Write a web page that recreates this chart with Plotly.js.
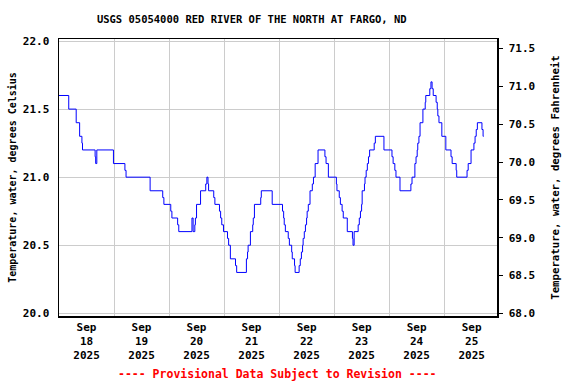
<!DOCTYPE html>
<html>
<head>
<meta charset="utf-8">
<script src="https://cdn.plot.ly/plotly-3.0.1.min.js"></script>
<style>html,body{margin:0;padding:0;background:#fff;}#chart{width:576px;height:384px;}</style>
</head>
<body>
<div id="chart"></div>
<script>
// Change points of the 15-minute water temperature record (degrees Celsius), drawn as steps
const times = [
"2025-09-18 00:00","2025-09-18 04:15","2025-09-18 07:30","2025-09-18 09:00","2025-09-18 10:00","2025-09-18 10:15",
"2025-09-18 15:45","2025-09-18 16:00","2025-09-18 16:30","2025-09-18 23:45",
"2025-09-19 04:45","2025-09-19 05:15","2025-09-19 15:45","2025-09-19 21:15","2025-09-19 21:45",
"2025-09-20 00:45","2025-09-20 01:15","2025-09-20 03:45","2025-09-20 04:15","2025-09-20 10:00","2025-09-20 10:30",
"2025-09-20 11:15","2025-09-20 11:30","2025-09-20 12:00","2025-09-20 13:45","2025-09-20 16:00","2025-09-20 16:30",
"2025-09-20 17:00","2025-09-20 17:15","2025-09-20 19:30","2025-09-20 20:00","2025-09-20 22:00","2025-09-20 22:30",
"2025-09-20 23:00","2025-09-20 23:45",
"2025-09-21 01:30","2025-09-21 02:00","2025-09-21 02:45","2025-09-21 05:00","2025-09-21 05:30","2025-09-21 09:45",
"2025-09-21 10:15","2025-09-21 10:30","2025-09-21 11:30","2025-09-21 12:30","2025-09-21 12:45","2025-09-21 13:15",
"2025-09-21 16:00","2025-09-21 16:15","2025-09-21 21:00",
"2025-09-22 01:30","2025-09-22 02:00","2025-09-22 02:15","2025-09-22 02:45","2025-09-22 04:00","2025-09-22 04:30",
"2025-09-22 05:30","2025-09-22 05:45","2025-09-22 06:45","2025-09-22 07:00","2025-09-22 08:45","2025-09-22 09:15",
"2025-09-22 09:45","2025-09-22 10:15","2025-09-22 10:30","2025-09-22 11:00","2025-09-22 11:30","2025-09-22 12:00",
"2025-09-22 12:15","2025-09-22 12:45","2025-09-22 13:30","2025-09-22 14:30","2025-09-22 15:00","2025-09-22 15:45",
"2025-09-22 17:00","2025-09-22 20:00","2025-09-22 20:30","2025-09-22 21:30",
"2025-09-23 01:00","2025-09-23 01:15","2025-09-23 02:15","2025-09-23 02:45","2025-09-23 03:30","2025-09-23 04:00",
"2025-09-23 05:45","2025-09-23 08:00","2025-09-23 08:15","2025-09-23 08:45","2025-09-23 10:30","2025-09-23 11:00",
"2025-09-23 11:30","2025-09-23 12:00","2025-09-23 12:15","2025-09-23 13:15","2025-09-23 13:30","2025-09-23 14:00",
"2025-09-23 14:30","2025-09-23 15:00","2025-09-23 15:30","2025-09-23 17:30","2025-09-23 18:00","2025-09-23 21:45",
"2025-09-24 01:15","2025-09-24 01:45","2025-09-24 02:30","2025-09-24 03:00","2025-09-24 04:45","2025-09-24 09:30",
"2025-09-24 10:00","2025-09-24 11:15","2025-09-24 11:45","2025-09-24 12:15","2025-09-24 12:30","2025-09-24 13:00",
"2025-09-24 13:30","2025-09-24 14:45","2025-09-24 15:45","2025-09-24 16:00","2025-09-24 17:45","2025-09-24 18:15",
"2025-09-24 18:45","2025-09-24 19:15","2025-09-24 20:30","2025-09-24 21:00","2025-09-24 21:15","2025-09-24 21:45",
"2025-09-24 23:00",
"2025-09-25 00:45","2025-09-25 03:00","2025-09-25 03:30","2025-09-25 05:15","2025-09-25 05:30","2025-09-25 10:00",
"2025-09-25 10:30","2025-09-25 11:45","2025-09-25 13:00","2025-09-25 13:30","2025-09-25 14:00","2025-09-25 14:30",
"2025-09-25 16:30","2025-09-25 17:00","2025-09-25 17:15"
];
const tempC = [
21.6,21.5,21.4,21.3,21.25,21.2,
21.15,21.1,21.2,21.1,
21.05,21.0,20.9,20.85,20.8,
20.75,20.7,20.65,20.6,20.7,20.6,
20.65,20.7,20.8,20.9,20.95,21.0,
20.95,20.9,20.85,20.8,20.75,20.7,
20.65,20.6,
20.55,20.5,20.4,20.35,20.3,20.4,
20.45,20.5,20.6,20.65,20.7,20.8,
20.85,20.9,20.8,
20.75,20.7,20.65,20.6,20.55,20.5,
20.45,20.4,20.35,20.3,20.35,20.4,
20.45,20.5,20.55,20.6,20.65,20.7,
20.75,20.8,20.9,20.95,21.0,21.1,
21.2,21.15,21.1,21.0,
20.95,20.9,20.85,20.8,20.75,20.7,
20.6,20.55,20.5,20.6,20.65,20.7,
20.75,20.8,20.9,20.95,21.0,21.05,
21.1,21.15,21.2,21.25,21.3,21.2,
21.15,21.1,21.05,21.0,20.9,20.95,
21.0,21.1,21.15,21.2,21.25,21.3,
21.4,21.5,21.55,21.6,21.65,21.7,
21.65,21.6,21.55,21.5,21.45,21.4,
21.3,
21.2,21.15,21.1,21.05,21.0,21.05,
21.1,21.2,21.25,21.3,21.35,21.4,
21.35,21.3,21.3
];
// Tick labels (placed at noon of each day), day boundaries for grid
const tickDays = ["2025-09-18","2025-09-19","2025-09-20","2025-09-21","2025-09-22","2025-09-23","2025-09-24","2025-09-25"];
const tickText = ["Sep<br>18<br>2025","Sep<br>19<br>2025","Sep<br>20<br>2025","Sep<br>21<br>2025","Sep<br>22<br>2025","Sep<br>23<br>2025","Sep<br>24<br>2025","Sep<br>25<br>2025"];
const cTicks = [20.0,20.5,21.0,21.5,22.0];
const fTicks = [68.0,68.5,69.0,69.5,70.0,70.5,71.0,71.5];

const cRange = [19.98, 22.015];
const fRange = cRange.map(c => c*1.8 + 32);
const FONT = "DejaVu Sans Mono";

const trace = {
  x: times, y: tempC, type: "scatter", mode: "lines",
  line: {color: "#0000ff", width: 1, shape: "hv"},
  hoverinfo: "x+y", showlegend: false
};
// invisible trace bound to the Fahrenheit axis so it renders
const traceF = {
  x: [times[0]], y: [tempC[0]*1.8+32], type: "scatter", mode: "lines",
  yaxis: "y2", line: {color: "rgba(0,0,0,0)"}, showlegend: false, hoverinfo: "skip"
};

const layout = {
  width: 576, height: 384,
  margin: {l: 59, r: 78.5, t: 39.3, b: 68},
  paper_bgcolor: "#fff", plot_bgcolor: "#fff",
  font: {family: FONT, size: 11, color: "#000", weight: "bold"},
  title: {
    text: "USGS 05054000 RED RIVER OF THE NORTH AT FARGO, ND",
    font: {family: FONT, size: 10.5, color: "#000", weight: "bold"},
    xref: "paper", x: (252-59)/438.5, xanchor: "center",
    yref: "container", y: 1 - 19.5/384, yanchor: "middle"
  },
  xaxis: {
    type: "date",
    range: ["2025-09-18 00:00", "2025-09-25 23:04"],
    tickmode: "array",
    tickvals: tickDays.map(d => d + " 12:00"),
    ticktext: tickText,
    ticks: "", showgrid: false, zeroline: false,
    showline: true, linecolor: "#000", linewidth: 1.5, mirror: true,
    tickfont: {family: FONT, size: 11, color: "#000", weight: "bold"},
    ticklabelstandoff: 2.5,
    minor: {tickmode: "linear", tick0: "2025-09-18", dtick: 86400000, showgrid: true, gridcolor: "#cccccc", gridwidth: 1, ticks: ""},
    fixedrange: true
  },
  yaxis: {
    range: cRange,
    tickmode: "array", tickvals: cTicks, ticktext: cTicks.map(v => v.toFixed(1)),
    ticks: "", showgrid: true, gridcolor: "#cccccc", gridwidth: 1, zeroline: false,
    showline: true, linecolor: "#000", linewidth: 1.5, mirror: true,
    tickfont: {family: FONT, size: 11, color: "#000", weight: "bold"},
    ticklabelstandoff: 6,
    title: {text: "Temperature, water, degrees Celsius", standoff: 4,
            font: {family: FONT, size: 10, color: "#000", weight: "bold"}},
    fixedrange: true
  },
  yaxis2: {
    overlaying: "y", side: "right", range: fRange,
    tickmode: "array", tickvals: fTicks, ticktext: fTicks.map(v => v.toFixed(1)),
    ticks: "outside", ticklen: 4, tickcolor: "#000", tickwidth: 1,
    showgrid: false, zeroline: false, showline: true, linecolor: "#000", linewidth: 1.5,
    tickfont: {family: FONT, size: 11, color: "#000", weight: "bold"},
    ticklabelstandoff: 4,
    title: {text: "Temperature, water, degrees Fahrenheit", standoff: 17,
            font: {family: FONT, size: 10.7, color: "#000", weight: "bold"}},
    fixedrange: true
  },
  annotations: [{
    text: "---- Provisional Data Subject to Revision ----",
    xref: "paper", yref: "paper", x: 0.498, y: (316-374.3)/276.7,
    xanchor: "center", yanchor: "middle", showarrow: false,
    font: {family: FONT, size: 11.5, color: "#ff0000", weight: "bold"}
  }]
};

Plotly.newPlot("chart", [trace, traceF], layout, {displayModeBar: false, staticPlot: true});
</script>
</body>
</html>
